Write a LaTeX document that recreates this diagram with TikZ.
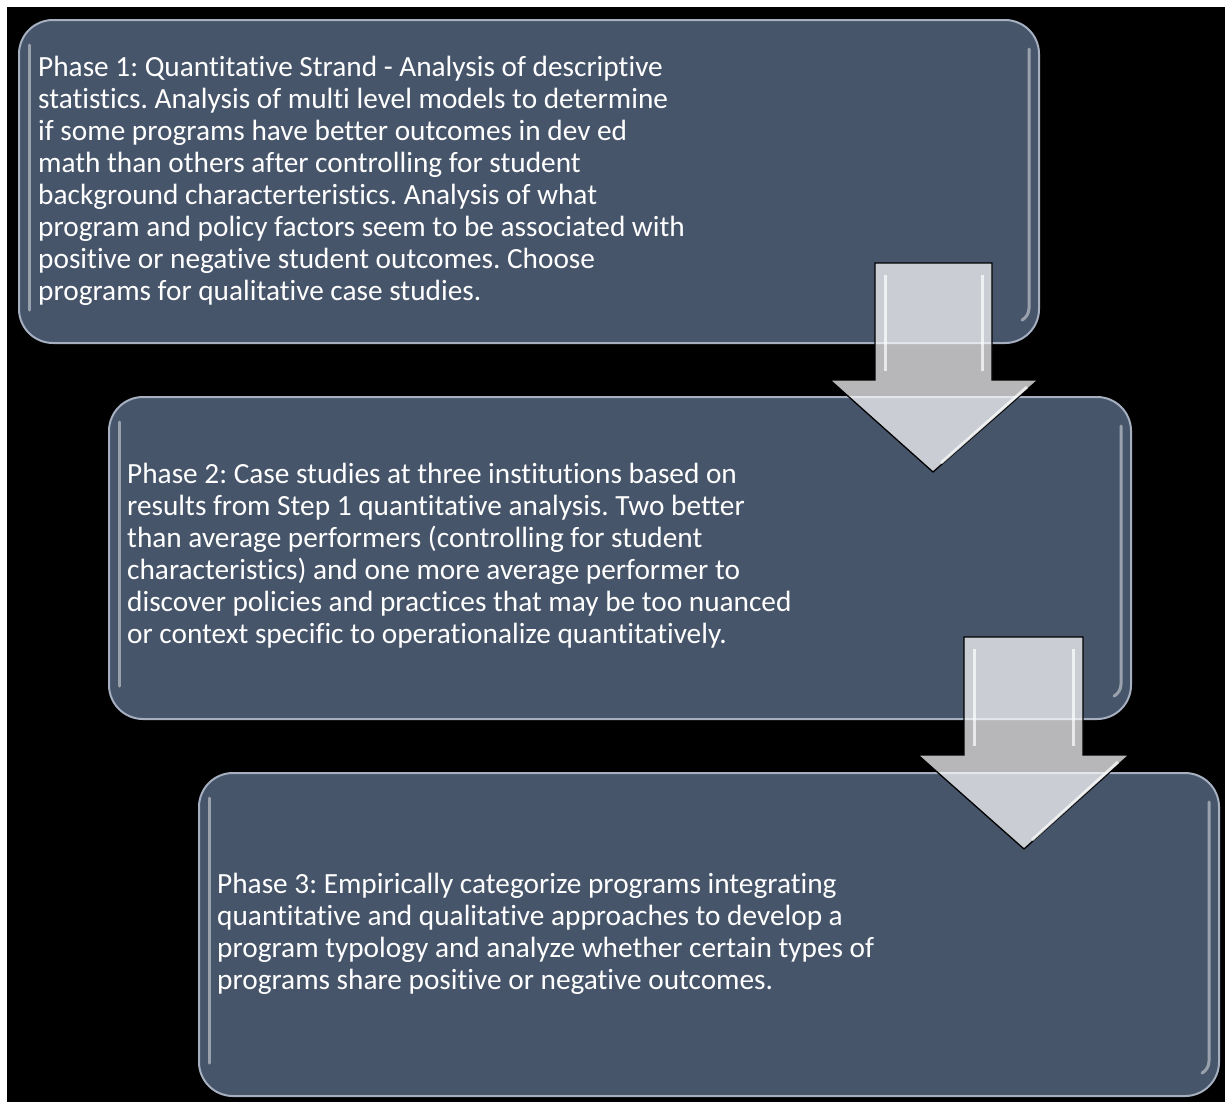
\documentclass[tikz,border=0pt]{standalone}
\usepackage{fontspec}
\setmainfont{Carlito}[Ligatures=NoCommon]
\usetikzlibrary{calc}
\definecolor{boxfill}{RGB}{71,85,107}
\definecolor{boxedge}{RGB}{165,175,192}
\definecolor{arrowfill}{RGB}{248,248,250}
\tikzset{
  phasebox/.style={rectangle, fill=boxfill, draw=boxedge, line width=2bp, rounded corners=34bp, anchor=north west, inner sep=0pt},
  phasetext/.style={text=white, font=\fontsize{29.3bp}{32bp}\selectfont\frenchspacing, align=left, anchor=base west, inner sep=0pt},
  glint/.style={draw=white, draw opacity=0.45, line width=3bp, line cap=round},
  blockarrow/.style={fill=arrowfill, fill opacity=0.74, draw=black, line width=1.3bp, line join=miter},
  bevel/.style={draw=white, draw opacity=0.7, line width=3bp}
}
\begin{document}
\begin{tikzpicture}[x=1bp,y=-1bp]
\useasboundingbox (0,0) rectangle (1225,1102);
\fill[white] (0,0) rectangle (1225,1102);
\fill[black] (7,7) rectangle (1225,1102);

% boxes
\node[phasebox, minimum width=1020bp, minimum height=323bp] (p1) at (18,19) {};
\node[phasebox, minimum width=1022bp, minimum height=322bp] (p2) at (108,396) {};
\node[phasebox, minimum width=1020bp, minimum height=323bp] (p3) at (198,772) {};

% glossy highlights
\foreach \b in {p1,p2,p3}{
  \draw[glint] ($(\b.north west)+(11,26)$) -- ($(\b.south west)+(11,-34)$);
  \draw[glint] ($(\b.north east)+(-11,30)$) -- ($(\b.south east)+(-11,-36)$)
     arc[start angle=0, end angle=-60, radius=14bp];
}

% arrows
\coordinate (a1) at (933,263);
\draw[blockarrow] ($(a1)+(-58,0)$) -- ($(a1)+(59,0)$) -- ($(a1)+(59,117)$) -- ($(a1)+(105,117)$)
   -- ($(a1)+(0,209)$) -- ($(a1)+(-103,117)$) -- ($(a1)+(-58,117)$) -- cycle;
\draw[bevel] ($(a1)+(-48,12)$) -- ($(a1)+(-48,108)$);
\draw[bevel] ($(a1)+(49,12)$) -- ($(a1)+(49,108)$);
\draw[bevel] ($(a1)+(94,124)$) -- ($(a1)+(8,200)$);

\coordinate (a2) at (1024,637);
\draw[blockarrow] ($(a2)+(-60,0)$) -- ($(a2)+(59,0)$) -- ($(a2)+(59,118)$) -- ($(a2)+(105,118)$)
   -- ($(a2)+(0,212)$) -- ($(a2)+(-106,118)$) -- ($(a2)+(-60,118)$) -- cycle;
\draw[bevel] ($(a2)+(-50,12)$) -- ($(a2)+(-50,109)$);
\draw[bevel] ($(a2)+(49,12)$) -- ($(a2)+(49,109)$);
\draw[bevel] ($(a2)+(94,125)$) -- ($(a2)+(8,203)$);

% texts (anchor base = baseline of the last line)
\node[phasetext] (t1) at (38,300) {Phase 1: Quantitative Strand - Analysis of descriptive\\
statistics. Analysis of multi level models to determine\\
if some programs have better outcomes in dev ed\\
math than others after controlling for student\\
background characterteristics. Analysis of what\\
program and policy factors seem to be associated with\\
positive or negative student outcomes. Choose\\
programs for qualitative case studies.};
\node[phasetext] (t2) at (127,643) {Phase 2: Case studies at three institutions based on\\
results from Step 1 quantitative analysis. Two better\\
than average performers (controlling for student\\
characteristics) and one more average performer to\\
discover policies and practices that may be too nuanced\\
or context specific to operationalize quantitatively.};
\node[phasetext] (t3) at (217,989) {Phase 3: Empirically categorize programs integrating\\
quantitative and qualitative approaches to develop a\\
program typology and analyze whether certain types of\\
programs share positive or negative outcomes.};
\end{tikzpicture}
\end{document}
